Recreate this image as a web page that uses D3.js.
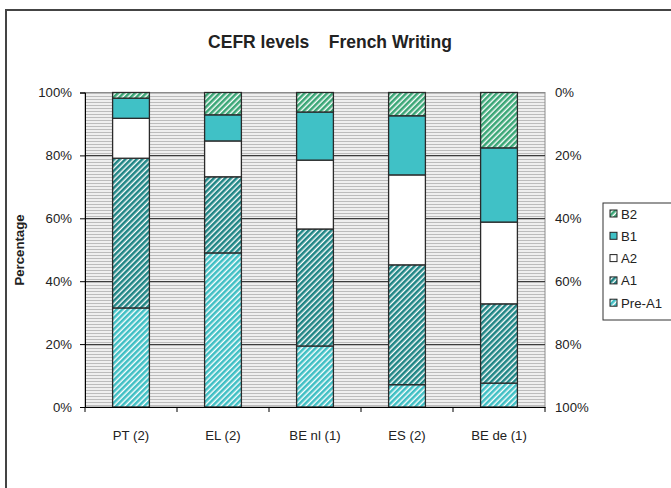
<!DOCTYPE html>
<html><head><meta charset="utf-8">
<script src="https://cdn.jsdelivr.net/npm/d3@7/dist/d3.min.js"></script>
<style>body{margin:0;background:#fff}svg{display:block;font-family:"Liberation Sans",Arial,sans-serif}</style>
</head><body><svg id="c" width="671" height="488"></svg>
<script>
const categories = ["PT (2)", "EL (2)", "BE nl (1)", "ES (2)", "BE de (1)"];
const levels = ["Pre-A1", "A1", "A2", "B1", "B2"];
const preA1 = [31.5, 49.0, 19.4, 7.1, 7.6];
const a1    = [47.6, 24.2, 37.2, 38.1, 25.2];
const a2    = [12.7, 11.4, 21.9, 28.6, 26.0];
const b1    = [6.4, 8.3, 15.3, 18.8, 23.6];
const b2    = [1.8, 7.1, 6.2, 7.4, 17.6];
const leftTicks = [0, 20, 40, 60, 80, 100];
const rightTicks = [0, 20, 40, 60, 80, 100];
const title = "CEFR levels    French Writing";

const series = [preA1, a1, a2, b1, b2];
const rows = categories.map((c, i) => {
  const r = {cat: c};
  levels.forEach((l, j) => r[l] = series[j][i]);
  return r;
});

const FS = 13.2;
const svg = d3.select("#c");
const defs = svg.append("defs");
function hatch(id, color) {
  const p = defs.append("pattern").attr("id", id).attr("patternUnits", "userSpaceOnUse")
    .attr("width", 4).attr("height", 4).attr("patternTransform", "rotate(45)");
  p.append("rect").attr("width", 4).attr("height", 4).attr("fill", "#fff");
  p.append("rect").attr("width", 2.6).attr("height", 4).attr("fill", color);
}
hatch("hPre", "#3fbfc4");
hatch("hA1", "#1f8585");
hatch("hB2", "#3aa676");
const bg = defs.append("pattern").attr("id", "bg").attr("patternUnits", "userSpaceOnUse")
  .attr("width", 4).attr("height", 3);
bg.append("rect").attr("width", 4).attr("height", 3).attr("fill", "#efefef");
bg.append("rect").attr("width", 4).attr("height", 1).attr("fill", "#bcbcbc");

const fills = {"Pre-A1": "url(#hPre)", "A1": "url(#hA1)", "A2": "#ffffff", "B1": "#40c1c6", "B2": "url(#hB2)"};

// outer frame
svg.append("rect").attr("x", 6).attr("y", 10).attr("width", 700).attr("height", 500)
  .attr("fill", "#fff").attr("stroke", "#444").attr("stroke-width", 2);

const L = 85, R = 545, T = 92.5, B = 407;
const x = d3.scaleBand().domain(categories).range([L, R]).paddingInner(0.6).paddingOuter(0.3);
const xb = d3.scaleBand().domain(categories).range([L, R]);
const y = d3.scaleLinear().domain([0, 100]).range([B, T]);
const yr = d3.scaleLinear().domain([0, 100]).range([T, B]);

// plot area background
svg.append("rect").attr("x", L).attr("y", T).attr("width", R - L).attr("height", B - T)
  .attr("fill", "url(#bg)").attr("stroke", "#8c8c8c").attr("stroke-width", 1);

// gridlines
svg.append("g").selectAll("line").data(leftTicks.filter(t => t > 0 && t < 100)).join("line")
  .attr("x1", L).attr("x2", R).attr("y1", d => Math.round(y(d)) + 0.5).attr("y2", d => Math.round(y(d)) + 0.5)
  .attr("stroke", "#3c3c3c").attr("stroke-width", 1);

// bars
const stack = d3.stack().keys(levels)(rows);
svg.append("g").selectAll("g").data(stack).join("g")
  .attr("fill", d => fills[d.key])
  .selectAll("rect").data(d => d).join("rect")
  .attr("x", d => x(d.data.cat)).attr("width", x.bandwidth())
  .attr("y", d => y(d[1])).attr("height", d => y(d[0]) - y(d[1]))
  .attr("stroke", "#2a2a2a").attr("stroke-width", 1.3);

// left axis
const la = svg.append("g").attr("transform", `translate(${L},0)`)
  .call(d3.axisLeft(y).tickValues(leftTicks).tickFormat(d => d + "%").tickSize(5).tickPadding(8));
la.select(".domain").attr("stroke", "#000");
la.selectAll("line").attr("stroke", "#000");
la.selectAll("text").attr("font-size", FS).attr("fill", "#222").attr("font-family", "Liberation Sans, Arial, sans-serif");

// bottom axis
const ba = svg.append("g").attr("transform", `translate(0,${B})`)
  .call(d3.axisBottom(xb).tickSize(0).tickPadding(24));
ba.select(".domain").attr("stroke", "#000");
ba.selectAll("text").attr("font-size", FS).attr("fill", "#222").attr("font-family", "Liberation Sans, Arial, sans-serif");
svg.append("g").selectAll("line").data(d3.range(categories.length + 1)).join("line")
  .attr("x1", i => L + i * xb.step()).attr("x2", i => L + i * xb.step())
  .attr("y1", B).attr("y2", B + 5).attr("stroke", "#000");

// right axis labels
const ra = svg.append("g").attr("transform", `translate(${R},0)`)
  .call(d3.axisRight(yr).tickValues(rightTicks).tickFormat(d => d + "%").tickSize(0).tickPadding(10));
ra.select(".domain").remove();
ra.selectAll("text").attr("font-size", FS).attr("fill", "#222").attr("font-family", "Liberation Sans, Arial, sans-serif");

// title
svg.append("text").attr("x", 330).attr("y", 48).attr("text-anchor", "middle")
  .attr("font-size", 17.5).attr("font-weight", "bold").attr("fill", "#222")
  .attr("xml:space", "preserve").style("white-space", "pre").text(title);

// y title
svg.append("text").attr("transform", "translate(24,250) rotate(-90)").attr("text-anchor", "middle")
  .attr("font-size", FS).attr("font-weight", "bold").attr("fill", "#222").text("Percentage");

// legend
svg.append("rect").attr("x", 603).attr("y", 203).attr("width", 90).attr("height", 117)
  .attr("fill", "#fff").attr("stroke", "#333").attr("stroke-width", 1);
const lg = svg.append("g").selectAll("g").data(levels.slice().reverse()).join("g")
  .attr("transform", (d, i) => `translate(610,${214 + i * 22.3})`);
lg.append("rect").attr("x", 0).attr("y", -4).attr("width", 7).attr("height", 7)
  .attr("fill", d => fills[d]).attr("stroke", "#222").attr("stroke-width", 1);
lg.append("text").attr("x", 11).attr("y", 4.5).attr("font-size", FS).attr("fill", "#222").text(d => d);
</script></body></html>
